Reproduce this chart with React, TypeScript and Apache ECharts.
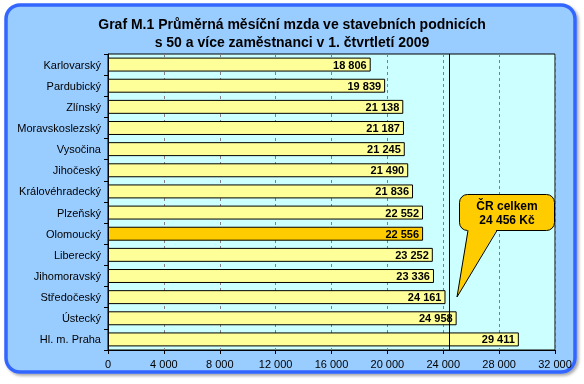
import React, { useEffect, useRef } from "react";
import * as echarts from "echarts";

const categories = [
  "Karlovarský",
  "Pardubický",
  "Zlínský",
  "Moravskoslezský",
  "Vysočina",
  "Jihočeský",
  "Královéhradecký",
  "Plzeňský",
  "Olomoucký",
  "Liberecký",
  "Jihomoravský",
  "Středočeský",
  "Ústecký",
  "Hl. m. Praha",
];
const values = [18806, 19839, 21138, 21187, 21245, 21490, 21836, 22552, 22556, 23252, 23336, 24161, 24958, 29411];
const highlighted = "Olomoucký";
const czTotal = 24456;
const titleLines = ["Graf M.1 Průměrná měsíční mzda ve stavebních podnicích", "s 50 a více zaměstnanci v 1. čtvrtletí 2009"];
const calloutLines = ["ČR celkem", "24 456 Kč"];

const fmt = (v: number) => {
  const s = String(Math.round(v));
  return s.replace(/\B(?=(\d{3})+(?!\d))/g, " ");
};

const FONT = "Liberation Sans, Arial, sans-serif";

export default function App() {
  const ref = useRef<HTMLDivElement>(null);
  useEffect(() => {
    if (!ref.current) return;
    const chart = echarts.init(ref.current, null, { renderer: "svg" });
    const data = values.map((v, i) => {
      const hl = categories[i] === highlighted;
      const color = hl ? "#FFCC00" : "#FFFF99";
      return {
        value: v,
        itemStyle: { color, borderColor: "#000", borderWidth: 1 },
      };
    });
    chart.setOption({
      animation: false,
      textStyle: { fontFamily: FONT },
      title: {
        text: titleLines.join("\n"),
        left: 287,
        textAlign: "center",
        top: 10,
        textStyle: { fontFamily: FONT, fontSize: 14, fontWeight: "bold", color: "#000", lineHeight: 18 },
      },
      graphic: [
        {
          type: "rect",
          z: -10,
          silent: true,
          shape: { x: 6, y: 5, width: 569, height: 367, r: 14 },
          style: {
            fill: "#99CCFF",
            stroke: "#3366FF",
            lineWidth: 3.5,
            shadowColor: "rgba(0,0,0,0.35)",
            shadowBlur: 3,
            shadowOffsetX: 2,
            shadowOffsetY: 2,
          },
        },
        {
          type: "rect",
          z: 100,
          silent: true,
          shape: { x: 459.5, y: 194.5, width: 95, height: 36, r: 8 },
          style: { fill: "#FFCC00", stroke: "#000", lineWidth: 1 },
        },
        {
          type: "polygon",
          z: 101,
          silent: true,
          shape: { points: [[468, 229], [457, 297], [497, 229]] },
          style: { fill: "#FFCC00" },
        },
        {
          type: "polyline",
          z: 102,
          silent: true,
          shape: { points: [[468, 230.5], [457, 297], [497, 230.5]] },
          style: { stroke: "#000", lineWidth: 1, fill: null },
        },
        {
          type: "text",
          z: 103,
          silent: true,
          x: 507,
          y: 199,
          style: {
            text: calloutLines.join("\n"),
            fontFamily: FONT,
            fontSize: 12,
            fontWeight: "bold",
            fill: "#000",
            align: "center",
            lineHeight: 14,
          },
        },
      ],
      grid: {
        left: 108,
        right: 29,
        top: 54,
        bottom: 34,
        show: true,
        backgroundColor: "#CCFFFF",
        borderColor: "#000",
        borderWidth: 1,
      },
      xAxis: {
        type: "value",
        min: 0,
        max: 32000,
        interval: 4000,
        axisLine: { show: true, lineStyle: { color: "#000" } },
        axisTick: { show: true, length: 4, lineStyle: { color: "#000" } },
        axisLabel: {
          color: "#000",
          fontSize: 11,
          fontFamily: FONT,
          margin: 8,
          formatter: (v: number) => fmt(v),
        },
        splitLine: { show: true, lineStyle: { color: "#808080", type: [3, 3], width: 1 } },
      },
      yAxis: {
        type: "category",
        data: categories,
        inverse: true,
        axisLine: { show: true, lineStyle: { color: "#000" } },
        axisTick: { show: true, length: 4, lineStyle: { color: "#000" } },
        axisLabel: { color: "#000", fontSize: 11, fontFamily: FONT, margin: 7 },
        splitLine: { show: false },
      },
      series: [
        {
          type: "bar",
          data,
          barCategoryGap: "34%",
          label: {
            show: true,
            position: "insideRight",
            distance: 4,
            formatter: (p: any) => fmt(p.value),
            color: "#000",
            fontSize: 11,
            fontWeight: "bold",
            fontFamily: FONT,
          },
          markLine: {
            silent: true,
            symbol: "none",
            label: { show: false },
            lineStyle: { color: "#000", type: "solid", width: 1 },
            data: [{ xAxis: czTotal }],
          },
        },
      ],
    });
    return () => chart.dispose();
  }, []);
  return <div ref={ref} style={{ position: "fixed", left: 0, top: 0, width: 584, height: 384 }} />;
}
